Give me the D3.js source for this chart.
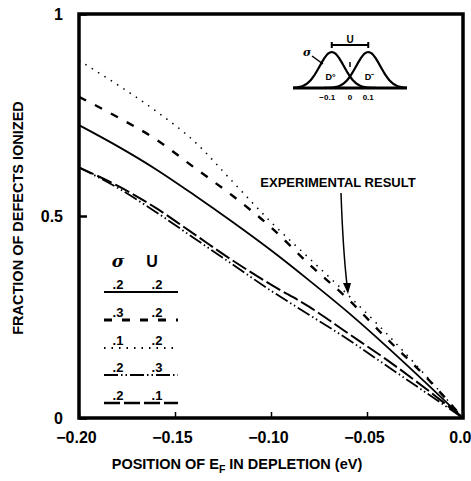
<!DOCTYPE html>
<html><head><meta charset="utf-8">
<script src="https://cdn.jsdelivr.net/npm/d3@7"></script>
<style>
body{margin:0;background:#fff;}
text{font-family:"Liberation Sans",Arial,sans-serif;font-weight:bold;fill:#000;}
</style></head><body>
<svg id="chart" width="471" height="481"></svg>
<script>
const xTicks = [-0.20, -0.15, -0.10, -0.05, 0.0];
const xTickLabels = ["\u22120.20", "\u22120.15", "\u22120.10", "\u22120.05", "0.0"];
const yTicks = [0, 0.5, 1];
const yTickLabels = ["0", "0.5", "1"];
const xVals = [-0.20, -0.18, -0.16, -0.14, -0.12, -0.10, -0.08, -0.06, -0.04, -0.02, 0.0];
const sigmaLabels = [".2", ".3", ".1", ".2", ".2"];
const uLabels = [".2", ".2", ".2", ".3", ".1"];
const s1 = [0.725, 0.673, 0.616, 0.552, 0.485, 0.415, 0.340, 0.262, 0.178, 0.090, 0]; // σ.2 U.2 solid
const s2 = [0.795, 0.745, 0.690, 0.620, 0.550, 0.472, 0.380, 0.295, 0.198, 0.105, 0]; // σ.3 U.2 dashed
const s3 = [0.885, 0.825, 0.760, 0.685, 0.585, 0.485, 0.395, 0.305, 0.210, 0.108, 0]; // σ.1 U.2 dotted
const s4 = [0.620, 0.570, 0.510, 0.445, 0.380, 0.315, 0.255, 0.195, 0.130, 0.065, 0]; // σ.2 U.3 dash-dot-dot
const s5 = [0.620, 0.575, 0.520, 0.455, 0.390, 0.330, 0.275, 0.210, 0.145, 0.075, 0]; // σ.2 U.1 long dash
const seriesValues = [s1, s2, s3, s4, s5];
const dashes = [null, "8,10", "1.5,6", "14,3,1.5,3,1.5,3", "16,4"];
const widths = [1.8, 2.4, 1.5, 1.8, 2.0];

const svg = d3.select("#chart");
const x = d3.scaleLinear().domain([-0.2, 0]).range([79, 463]);
const y = d3.scaleLinear().domain([0, 1]).range([418, 14]);

// curves
const line = d3.line().x((d,i)=>x(xVals[i])).y(d=>y(d)).curve(d3.curveMonotoneX);
seriesValues.forEach((s,k)=>{
  svg.append("path").attr("d", line(s)).attr("fill","none").attr("stroke","#000")
    .attr("stroke-width", widths[k]).attr("stroke-dasharray", dashes[k]);
});

// frame
svg.append("rect").attr("x",79).attr("y",14).attr("width",384).attr("height",404)
  .attr("fill","none").attr("stroke","#000").attr("stroke-width",3.5);

// axes
const xAxis = d3.axisBottom(x).tickValues(xTicks).tickSizeInner(-6).tickSizeOuter(0)
  .tickFormat((d,i)=>xTickLabels[i]).tickPadding(14);
const gx = svg.append("g").attr("transform","translate(0,418)").call(xAxis);
gx.select(".domain").remove();
gx.selectAll("line").attr("stroke-width",1.5);
gx.selectAll("text").attr("font-size",16).style("font-family",null)
  .attr("text-anchor",(d,i)=>i===xTicks.length-1?"end":"middle")
  .attr("dx",(d,i)=>i===xTicks.length-1?8:-3);
const yAxis = d3.axisLeft(y).tickValues(yTicks).tickSizeInner(-8).tickSizeOuter(0)
  .tickFormat((d,i)=>yTickLabels[i]).tickPadding(16);
const gy = svg.append("g").attr("transform","translate(79,0)").call(yAxis);
gy.select(".domain").remove();
gy.selectAll("line").attr("stroke-width",2.5);
gy.selectAll("text").attr("font-size",16).style("font-family",null);

// axis titles
svg.append("text").attr("x",237).attr("y",469).attr("text-anchor","middle").attr("font-size",14.5)
  .html('POSITION OF E<tspan font-size="10.5" dy="4">F</tspan><tspan dy="-4"> IN DEPLETION (eV)</tspan>');
svg.append("text").attr("transform","translate(23,218) rotate(-90)").attr("text-anchor","middle")
  .attr("font-size",14.5).text("FRACTION OF DEFECTS IONIZED");

// legend
svg.append("text").attr("x",118).attr("y",267).attr("text-anchor","middle").attr("font-size",17)
  .style("font-family","DejaVu Serif").style("font-style","italic").text("σ");
svg.append("text").attr("x",152).attr("y",267).attr("text-anchor","middle").attr("font-size",16).text("U");
const rowY = [292, 320, 348, 375, 403];
rowY.forEach((ry,k)=>{
  svg.append("line").attr("x1",104).attr("x2",178).attr("y1",ry).attr("y2",ry)
    .attr("stroke","#000").attr("stroke-width",widths[k]+0.4).attr("stroke-dasharray",dashes[k]);
  svg.append("text").attr("x",118).attr("y",ry-3).attr("text-anchor","middle").attr("font-size",13).text(sigmaLabels[k]);
  svg.append("text").attr("x",157).attr("y",ry-3).attr("text-anchor","middle").attr("font-size",13).text(uLabels[k]);
});

// experimental result annotation
svg.append("text").attr("x",338).attr("y",187).attr("text-anchor","middle").attr("font-size",13).text("EXPERIMENTAL RESULT");
svg.append("path").attr("d","M341,193 Q343,250 347,285").attr("fill","none").attr("stroke","#000").attr("stroke-width",1.5);
svg.append("path").attr("d","M343,283 L351,283 L348,294 Z").attr("fill","#000");

// inset diagram
const ix = d3.scaleLinear().domain([-0.25, 0.25]).range([293, 407]);
const iy = d3.scaleLinear().domain([0, 1]).range([88, 52]);
const gx0 = d3.range(-0.25, 0.2501, 0.005);
const g1 = d3.line().x(d=>ix(d)).y(d=>iy(Math.exp(-Math.pow((d+0.08)/0.075,2)))).curve(d3.curveBasis);
const g2 = d3.line().x(d=>ix(d)).y(d=>iy(Math.exp(-Math.pow((d-0.08)/0.075,2)))).curve(d3.curveBasis);
const ins = svg.append("g");
ins.append("path").attr("d",g1(gx0.filter(d=>d<0.12))).attr("fill","none").attr("stroke","#000").attr("stroke-width",2.2);
ins.append("path").attr("d",g2(gx0.filter(d=>d>-0.12))).attr("fill","none").attr("stroke","#000").attr("stroke-width",2.2);
ins.append("line").attr("x1",293).attr("x2",407).attr("y1",88).attr("y2",88).attr("stroke","#000").attr("stroke-width",3);
ins.append("line").attr("x1",ix(-0.08)).attr("x2",ix(0.08)).attr("y1",45).attr("y2",45).attr("stroke","#000").attr("stroke-width",2);
ins.append("line").attr("x1",ix(-0.08)).attr("x2",ix(-0.08)).attr("y1",42).attr("y2",48).attr("stroke","#000").attr("stroke-width",2);
ins.append("line").attr("x1",ix(0.08)).attr("x2",ix(0.08)).attr("y1",42).attr("y2",48).attr("stroke","#000").attr("stroke-width",2);
ins.append("text").attr("x",ix(0)).attr("y",43).attr("text-anchor","middle").attr("font-size",10).text("U");
ins.append("line").attr("x1",ix(0)).attr("x2",ix(0)).attr("y1",62).attr("y2",67).attr("stroke","#000").attr("stroke-width",1.5);
ins.append("text").attr("x",311).attr("y",56).attr("text-anchor","end").attr("font-size",11)
  .style("font-family","DejaVu Serif").style("font-style","italic").text("σ");
ins.append("line").attr("x1",312).attr("x2",323).attr("y1",56).attr("y2",64).attr("stroke","#000").attr("stroke-width",1.5);
ins.append("text").attr("x",ix(-0.085)).attr("y",80).attr("text-anchor","middle").attr("font-size",9).text("D°");
ins.append("text").attr("x",ix(0.085)).attr("y",80).attr("text-anchor","middle").attr("font-size",9).text("D⁻");
ins.append("text").attr("x",ix(-0.1)).attr("y",100).attr("text-anchor","middle").attr("font-size",8).text("−0.1");
ins.append("text").attr("x",ix(0)).attr("y",100).attr("text-anchor","middle").attr("font-size",8).text("0");
ins.append("text").attr("x",ix(0.08)).attr("y",100).attr("text-anchor","middle").attr("font-size",8).text("0.1");
</script></body></html>
